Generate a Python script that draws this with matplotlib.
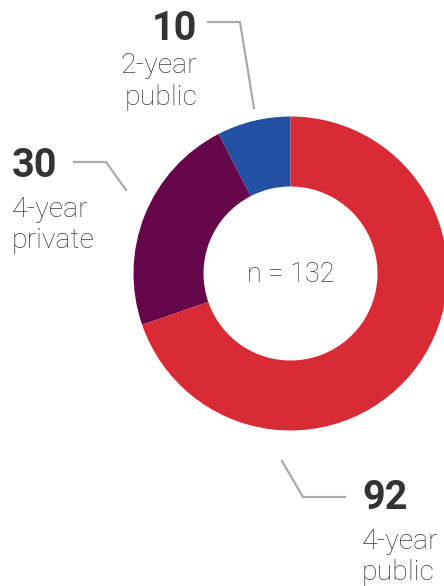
import matplotlib.pyplot as plt

W, H = 444, 586

categories = ["2-year\npublic", "4-year\nprivate", "4-year\npublic"]
values = [10, 30, 92]
colors = ["#2551A5", "#67074B", "#D92B35"]
total_label = "n = 132"

plt.rcParams['font.family'] = ['Roboto', 'DejaVu Sans']

fig = plt.figure(figsize=(W / 100, H / 100), dpi=100)
ax = fig.add_axes([0, 0, 1, 1])

cx, cy = 290.5, H - 273.5
ax.pie(values, colors=colors, startangle=90, counterclock=True,
       radius=157, center=(cx, cy),
       wedgeprops=dict(width=70, linewidth=0))

ax.set_xlim(0, W)
ax.set_ylim(0, H)
ax.set_aspect('equal')
ax.axis('off')

ax.text(cx, H - 275, total_label, ha='center', va='center',
        fontsize=19.5, fontweight='light', color='#3a3a3a')

num_color = '#333333'
lab_color = '#3c3c3c'
line_color = '#aaaaaa'
big = 28.5
small = 20.5

# 2-year public (top, right-aligned)
ax.text(197, H - 40, str(values[0]), ha='right', va='baseline',
        fontsize=big, fontweight='bold', color=num_color)
ax.text(197, H - 73, categories[0].split('\n')[0], ha='right', va='baseline',
        fontsize=small, fontweight='light', color=lab_color)
ax.text(197, H - 105, categories[0].split('\n')[1], ha='right', va='baseline',
        fontsize=small, fontweight='light', color=lab_color)
ax.plot([208, 240, 254], [H - 22, H - 22, H - 108], color=line_color, lw=1.6)

# 4-year private (left)
ax.text(12, H - 177, str(values[1]), ha='left', va='baseline',
        fontsize=big, fontweight='bold', color=num_color)
ax.text(12, H - 217, categories[1].split('\n')[0], ha='left', va='baseline',
        fontsize=small, fontweight='light', color=lab_color)
ax.text(12, H - 248, categories[1].split('\n')[1], ha='left', va='baseline',
        fontsize=small, fontweight='light', color=lab_color)
ax.plot([74, 106, 126], [H - 162, H - 162, H - 190], color=line_color, lw=1.6)

# 4-year public (bottom right)
ax.text(362, H - 509, str(values[2]), ha='left', va='baseline',
        fontsize=big, fontweight='bold', color=num_color)
ax.text(362, H - 549, categories[2].split('\n')[0], ha='left', va='baseline',
        fontsize=small, fontweight='light', color=lab_color)
ax.text(362, H - 580, categories[2].split('\n')[1], ha='left', va='baseline',
        fontsize=small, fontweight='light', color=lab_color)
ax.plot([282, 303, 345], [H - 461, H - 497, H - 497], color=line_color, lw=1.6)

fig.savefig('out.png', dpi=100)
